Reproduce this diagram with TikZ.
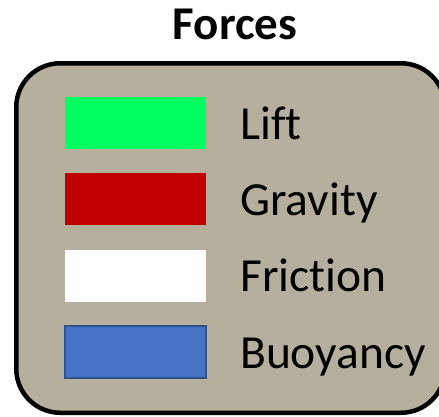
\documentclass[tikz,border=0pt]{standalone}
\usepackage{fontspec}
\setmainfont[Ligatures={NoCommon}]{Carlito}
\definecolor{panelfill}{RGB}{183,175,158}
\definecolor{liftgreen}{RGB}{0,255,95}
\definecolor{gravred}{RGB}{192,0,0}
\definecolor{buoyblue}{RGB}{68,114,196}
\definecolor{buoyedge}{RGB}{47,82,143}
\begin{document}
\begin{tikzpicture}[x=1pt,y=-1pt,
  swatch/.style={minimum width=141pt,minimum height=52pt,inner sep=0pt,outer sep=0pt},
  lbl/.style={anchor=base west,inner sep=0pt,font=\fontsize{47.5}{54}\selectfont}]
\useasboundingbox (0,0) rectangle (439,416);
\begin{scope}
\clip (0,0) rectangle (439,416);
\draw[line width=4.5pt,fill=panelfill,rounded corners=44pt] (16.25,63.25) rectangle (445,412.75);
\end{scope}
\node[anchor=base,inner sep=0pt,font=\fontsize{47}{54}\selectfont\bfseries] (title) at (235,39) {Forces};
\node[swatch,fill=liftgreen] (s1) at (135.5,123) {};
\node[swatch,fill=gravred] (s2) at (135.5,199) {};
\node[swatch,fill=white] (s3) at (135.5,275.5) {};
\node[swatch,fill=buoyblue,draw=buoyedge,line width=1.2pt] (s4) at (135.5,352) {};
\node[lbl] (l1) at (240,139) {Lift};
\node[lbl] (l2) at (240,215) {Gravity};
\node[lbl] (l3) at (240,291.5) {Friction};
\node[lbl] (l4) at (240,368) {Buoyancy};
\end{tikzpicture}
\end{document}
